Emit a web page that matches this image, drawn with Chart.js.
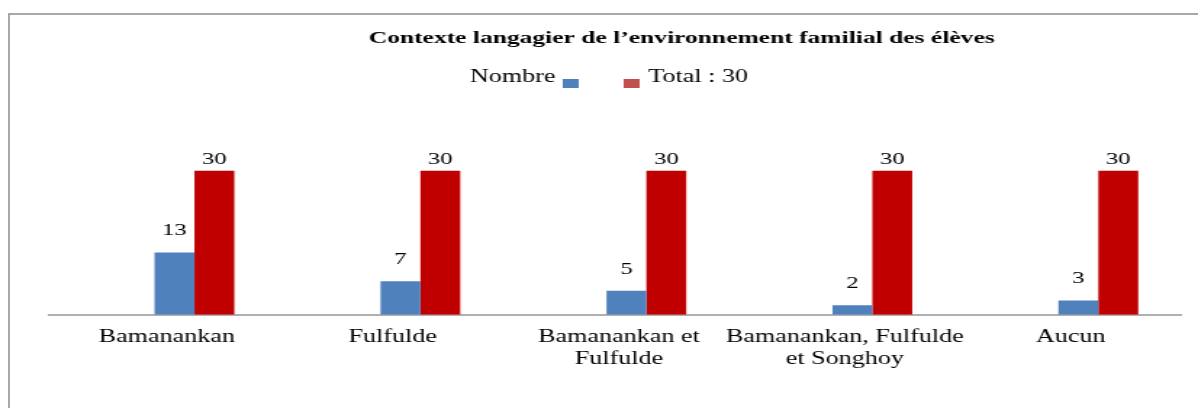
<!DOCTYPE html>
<html lang="fr">
<head>
  <meta charset="UTF-8" />
  <title>Contexte langagier de l’environnement familial des élèves</title>
  <script src="https://cdn.jsdelivr.net/npm/chart.js@4.4.1/dist/chart.umd.min.js"></script>
  <style>
    html, body {
      margin: 0;
      padding: 0;
      background: #fff;
      overflow: hidden;
    }

    /* frame of the original figure (left + top edges only) */
    #frame {
      position: absolute;
      left: 8px;
      top: 13px;
      width: 1190px;
      height: 395px;
      border-left: 2px solid #a8a8a8;
      border-top: 2px solid #a8a8a8;
      box-sizing: border-box;
    }

    #chart {
      position: absolute;
      left: 0;
      top: 0;
    }
  </style>
</head>
<body>
  <div id="frame"></div>
  <!-- drawn narrow, then stretched horizontally like the source picture -->
  <canvas id="chart" width="826" height="408" style="width:1198px;height:408px"></canvas>

  <script>
    const chartTitle = 'Contexte langagier de l’environnement familial des élèves';
    const categories = [
      'Bamanankan',
      'Fulfulde',
      ['Bamanankan et', 'Fulfulde'],
      ['Bamanankan, Fulfulde', 'et Songhoy'],
      'Aucun'
    ];
    const seriesLabels = ['Nombre', 'Total : 30'];
    const nombre = [13, 7, 5, 2, 3];
    const total = [30, 30, 30, 30, 30];

    const serif = '"Liberation Serif", "Times New Roman", serif';

    // value labels on top of each bar
    const valueLabels = {
      id: 'valueLabels',
      afterDatasetsDraw(chart) {
        const ctx = chart.ctx;
        const gaps = [13, 3];
        ctx.save();
        ctx.font = '17px ' + serif;
        ctx.fillStyle = '#000';
        ctx.textAlign = 'center';
        ctx.textBaseline = 'bottom';
        chart.data.datasets.forEach((ds, di) => {
          chart.getDatasetMeta(di).data.forEach((bar, i) => {
            ctx.fillText(String(ds.data[i].y), bar.x, bar.y - gaps[di]);
          });
        });
        ctx.restore();
      }
    };

    // title + legend laid out like the original (text before the first box)
    const header = {
      id: 'header',
      afterDraw(chart) {
        const ctx = chart.ctx;
        const ds = chart.data.datasets;
        ctx.save();
        ctx.fillStyle = '#000';
        ctx.textBaseline = 'middle';

        ctx.font = 'bold 17.6px ' + serif;
        ctx.textAlign = 'center';
        ctx.fillText(chartTitle, 470, 38);

        ctx.font = '18px ' + serif;
        ctx.textAlign = 'right';
        ctx.fillText(ds[0].label, 383, 77);
        ctx.fillStyle = ds[0].legendColor;
        ctx.fillRect(388, 79, 11, 9);

        ctx.fillStyle = ds[1].legendColor;
        ctx.fillRect(430, 79, 11, 9);
        ctx.fillStyle = '#000';
        ctx.textAlign = 'left';
        ctx.fillText(ds[1].label, 447, 77);
        ctx.restore();
      }
    };

    new Chart(document.getElementById('chart'), {
      type: 'bar',
      data: {
        datasets: [
          {
            label: seriesLabels[0],
            data: nombre.map((v, i) => ({ x: i, y: v })),
            backgroundColor: '#4f81bd',
            legendColor: '#4f81bd'
          },
          {
            label: seriesLabels[1],
            data: total.map((v, i) => ({ x: i, y: v })),
            backgroundColor: '#c00000',
            legendColor: '#c0504d'
          }
        ]
      },
      options: {
        responsive: false,
        animation: false,
        devicePixelRatio: 1,
        categoryPercentage: 0.353,
        barPercentage: 1,
        layout: {
          padding: { left: 34, right: 12, top: 142, bottom: 26 }
        },
        plugins: {
          legend: { display: false },
          title: { display: false },
          tooltip: { enabled: false }
        },
        scales: {
          x: {
            type: 'linear',
            offset: false,
            min: -0.642,
            max: 4.364,
            afterBuildTicks: axis => {
              axis.ticks = categories.map((c, i) => ({ value: i }));
            },
            grid: { display: false, drawTicks: false, offset: false },
            border: { display: true, color: '#b0b0b0', width: 2 },
            ticks: {
              callback: v => categories[v],
              font: { family: serif, size: 18 },
              color: '#000',
              padding: 12,
              labelOffset: -19,
              maxRotation: 0,
              autoSkip: false
            }
          },
          y: {
            display: false,
            min: 0,
            max: 36
          }
        }
      },
      plugins: [valueLabels, header]
    });
  </script>
</body>
</html>
